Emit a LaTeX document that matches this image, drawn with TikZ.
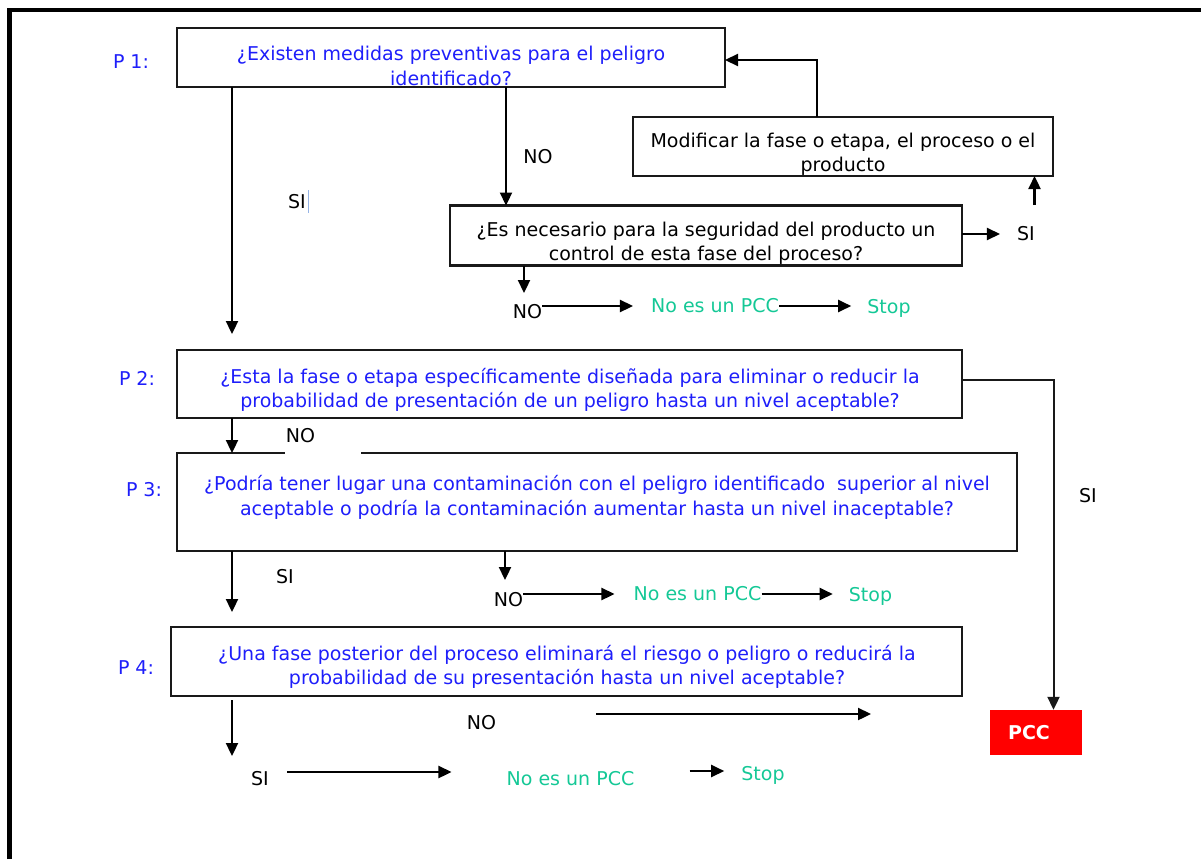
\documentclass[tikz,border=0pt]{standalone}
\usepackage{fontspec}
\setmainfont{DejaVu Sans}
\usetikzlibrary{arrows.meta}
\definecolor{qblue}{RGB}{30,30,250}
\definecolor{okgreen}{RGB}{20,200,150}
\definecolor{pccred}{RGB}{255,0,0}
\definecolor{edge}{RGB}{25,25,25}
\definecolor{cursorblue}{RGB}{150,180,230}
\newcommand\qfont{\fontsize{19}{24.5}\selectfont}

\begin{document}
\begin{tikzpicture}[x=1pt,y=-1pt,
  box/.style={draw=edge, line width=2.8pt, inner sep=0pt, outer sep=0pt},
  qtext/.style={text=qblue, font=\qfont, align=center, inner sep=0pt},
  btext/.style={text=black, font=\qfont, align=center, inner sep=0pt},
  lbl/.style={font=\qfont, inner sep=0pt},
  plbl/.style={font=\qfont, text=qblue, inner sep=0pt},
  ok/.style={font=\qfont, text=okgreen, inner sep=0pt},
  arr/.style={draw=black, line width=2.3pt, -{Triangle[length=13pt,width=12pt]}},
  link/.style={draw=edge, line width=2pt, -{Triangle[length=13pt,width=12pt]}}]
\useasboundingbox (0,0) rectangle (1201,859);

% outer frame (left and top edges)
\draw[line width=4.5pt] (9.5,859) -- (9.5,10) -- (1201,10);

% question boxes
\node[box, minimum width=548pt, minimum height=59pt] (p1) at (451,57.5) {};
\node[box, minimum width=512pt, minimum height=60pt] (q1) at (706,235.5) {};
\node[box, minimum width=420pt, minimum height=59pt] (mod) at (843,146.5) {};
\node[box, minimum width=785pt, minimum height=68pt] (p2) at (569.5,384) {};
\node[box, minimum width=840pt, minimum height=98pt] (p3) at (597,502) {};
\node[box, minimum width=791pt, minimum height=69pt] (p4) at (566.5,661.5) {};
\node[fill=pccred, inner sep=0pt, minimum width=92pt, minimum height=45pt] (pcc) at (1036,732.5) {};
\node[text=white, font=\bfseries\fontsize{19}{19}\selectfont, inner sep=0pt] (pcctext) at (1029,733) {PCC};

% box texts
\node[qtext] (t1) at (451,66) {¿Existen medidas preventivas para el peligro\\identificado?};
\node[btext] (tq1) at (706,243.5) {¿Es necesario para la seguridad del producto un\\control de esta fase del proceso?};
\node[btext] (tmod) at (843,154.5) {Modificar la fase o etapa, el proceso o el\\producto};
\node[qtext] (t2) at (570,390) {¿Esta la fase o etapa específicamente diseñada para eliminar o reducir la\\probabilidad de presentación de un peligro hasta un nivel aceptable?};
\node[qtext] (t3) at (597,497.5) {¿Podría tener lugar una contaminación con el peligro identificado\ \ superior al nivel\\aceptable o podría la contaminación aumentar hasta un nivel inaceptable?};
\node[qtext] (t4) at (567,667) {¿Una fase posterior del proceso eliminará el riesgo o peligro o reducirá la\\probabilidad de su presentación hasta un nivel aceptable?};

% question numbers
\node[plbl] (l1) at (131,62) {P 1:};
\node[plbl] (l2) at (137,378) {P 2:};
\node[plbl] (l3) at (144,490) {P 3:};
\node[plbl] (l4) at (136,668) {P 4:};

% column and end coordinates
\coordinate (colA) at (232,0);
\coordinate (colNO1) at (506,0);
\coordinate (colQ1) at (524,0);
\coordinate (colNO3) at (505,0);
\coordinate (colSI) at (1053.5,380);
\coordinate (back) at (817,60);
\coordinate (up) at (1034.5,205);
\coordinate (e1) at (232,334);
\coordinate (e2) at (524,293);
\coordinate (e3) at (232,612);
\coordinate (e4) at (505,580);
\coordinate (e5) at (232,756);
\coordinate (e6) at (871,714);
\coordinate (r3a) at (0,772);
\coordinate (r3b) at (0,771);
\coordinate (r4) at (0,714);

% P1
\draw[arr] (p1.south -| colA) -- (e1);
\node[lbl] (si1) at (297,202) {SI};
\draw[cursorblue, line width=1pt] (308,190) -- (308,213);
\draw[arr] (p1.south -| colNO1) -- (q1.north -| colNO1);
\node[lbl] (no1) at (538,157) {NO};
\draw[arr] (mod.north -| back) -- (back) -- (p1.east |- back);

% control question
\node[lbl] (siR) at (1026,234) {SI};
\draw[arr, shorten >=17pt] (q1.east |- siR) -- (siR.west);
\draw[arr] (up) -- (up |- mod.south);
\draw[arr] (q1.south -| colQ1) -- (e2);
\node[lbl] (noA) at (527.5,312) {NO};
\node[ok] (pccA) at (715,306) {No es un PCC};
\node[ok] (stopA) at (889,308) {Stop};
\draw[arr, shorten >=18pt] (noA.east |- pccA.west) -- (pccA.west);
\draw[arr, shorten >=16pt] (pccA.east) -- (stopA.west |- pccA.east);

% P2
\draw[link] (p2.east |- colSI) -- (colSI) -- (colSI |- pcc.north);
\node[lbl] (si2) at (1088,496) {SI};
\draw[arr] (p2.south -| colA) -- (p3.north -| colA);
\node[fill=white, inner sep=0pt, minimum width=76pt, minimum height=30pt] (no2bg) at (323,441) {};
\node[lbl] (no2) at (300.5,436) {NO};

% P3
\draw[arr] (p3.south -| colA) -- (e3);
\node[lbl] (si3) at (285,577) {SI};
\draw[arr] (p3.south -| colNO3) -- (e4);
\node[lbl] (noB) at (508.5,600) {NO};
\node[ok] (pccB) at (697.5,594) {No es un PCC};
\node[ok] (stopB) at (870.5,596) {Stop};
\draw[arr, shorten >=19pt] (noB.east |- pccB.west) -- (pccB.west);
\draw[arr, shorten >=16pt] (pccB.east) -- (stopB.west |- pccB.east);

% P4
\draw[arr, shorten <=4pt] (p4.south -| colA) -- (e5);
\node[lbl] (siC) at (260,779) {SI};
\node[ok] (pccC) at (570.5,779) {No es un PCC};
\node[ok] (stopC) at (763,775) {Stop};
\draw[arr, shorten <=18pt, shorten >=55pt] (siC.east |- r3a) -- (pccC.west |- r3a);
\draw[arr, shorten <=55pt, shorten >=17pt] (pccC.east |- r3b) -- (stopC.west |- r3b);
\node[lbl] (noC) at (481.5,723) {NO};
\draw[arr, shorten <=100pt] (noC.east |- r4) -- (e6);
\end{tikzpicture}
\end{document}
